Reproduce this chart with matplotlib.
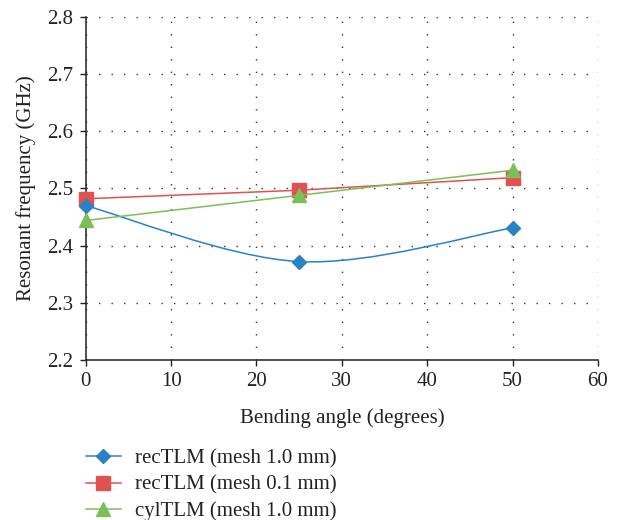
import matplotlib
matplotlib.use("Agg")
import matplotlib.pyplot as plt
from matplotlib.path import Path
from matplotlib.patches import PathPatch
from matplotlib.lines import Line2D
import numpy as np

plt.rcParams['font.family'] = ['Liberation Serif', 'DejaVu Serif']

# data
angles = [0, 25, 50]
rec_10 = [2.470, 2.372, 2.431]
rec_01 = [2.482, 2.497, 2.519]
cyl_10 = [2.444, 2.488, 2.532]
labels = ["recTLM (mesh 1.0 mm)", "recTLM (mesh 0.1 mm)", "cylTLM (mesh 1.0 mm)"]

blue = '#2a82c6'
red = '#e05252'
green = '#7cbf58'


def smooth_path(xs, ys):
    # Excel-style smoothed line: cubic bezier segments between the points
    pts = np.column_stack([xs, ys]).astype(float)
    n = len(pts)
    verts = [pts[0]]
    codes = [Path.MOVETO]
    for i in range(n - 1):
        p_prev = pts[max(i - 1, 0)]
        p_next2 = pts[min(i + 2, n - 1)]
        c1 = pts[i] + (pts[i + 1] - p_prev) / 6
        c2 = pts[i + 1] - (p_next2 - pts[i]) / 6
        verts += [c1, c2, pts[i + 1]]
        codes += [Path.CURVE4] * 3
    return Path(verts, codes)


fig = plt.figure(figsize=(6.17, 5.2), dpi=100)
ax = fig.add_axes([0.139, 0.308, 0.830, 0.659])

ax.add_patch(PathPatch(smooth_path(angles, rec_10), facecolor='none',
                       edgecolor=blue, lw=1.1, zorder=3))
ax.plot(angles, rec_10, ls='none', marker='D', ms=7, color=blue, zorder=4,
        clip_on=False)
ax.plot(angles, rec_01, '-', marker='s', ms=10, color=red, lw=1.1, zorder=3,
        clip_on=False)
ax.plot(angles, cyl_10, '-', marker='^', ms=10, color=green, lw=1.1, zorder=5,
        clip_on=False)

ax.set_xlim(0, 60)
ax.set_ylim(2.2, 2.8)
ax.set_xticks(np.arange(0, 61, 10))
ax.set_yticks(np.arange(2.2, 2.81, 0.1))
ax.set_yticklabels([f"{v:.1f}" for v in np.arange(2.2, 2.81, 0.1)])
ax.grid(True, linestyle=(0, (1, 8)), color='#333333', lw=1.0)
ax.set_axisbelow(True)

for s in ['top', 'right']:
    ax.spines[s].set_visible(False)
for s in ['left', 'bottom']:
    ax.spines[s].set_linewidth(1.1)
    ax.spines[s].set_color('#222222')
ax.tick_params(direction='out', length=4, width=1.0, labelsize=15,
               colors='#222222', pad=5)

ax.set_xlabel("Bending angle (degrees)", fontsize=15, color='#222222', labelpad=12)
ax.set_ylabel("Resonant frequency (GHz)", fontsize=15, color='#222222', labelpad=8)

handles = [
    Line2D([], [], color=blue, marker='D', ms=7, lw=1.1),
    Line2D([], [], color=red, marker='s', ms=10, lw=1.1),
    Line2D([], [], color=green, marker='^', ms=10, lw=1.1),
]
fig.legend(handles, labels, loc='upper left', bbox_to_anchor=(0.122, 0.157),
           frameon=False, fontsize=15, handlelength=1.7, handletextpad=0.65,
           labelspacing=0.33, borderpad=0, labelcolor='#222222')

fig.savefig('out.png', dpi=100)
